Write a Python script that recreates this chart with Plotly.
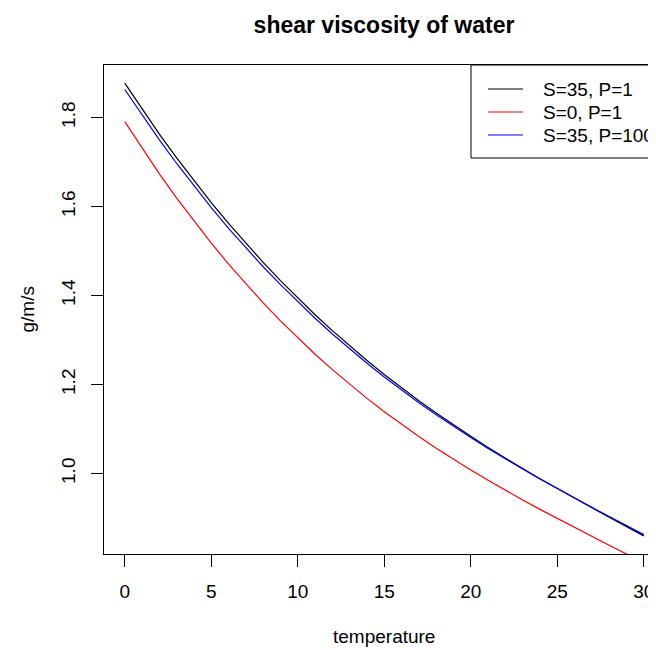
import plotly.graph_objects as go

# viscosity of sea water vs temperature
temperature = list(range(0, 31))

visc_s35_p1 = [1.8774, 1.8189, 1.7629, 1.7094, 1.6582, 1.6091, 1.5621, 1.5173,
               1.4745, 1.4336, 1.3944, 1.3570, 1.3212, 1.2870, 1.2542, 1.2228,
               1.1927, 1.1638, 1.1361, 1.1094, 1.0837, 1.0588, 1.0346, 1.0112,
               0.9885, 0.9663, 0.9444, 0.9230, 0.9018, 0.8809, 0.8600]
visc_s0_p1 = [1.7908, 1.7308, 1.6736, 1.6192, 1.5673, 1.5179, 1.4708, 1.4261,
              1.3836, 1.3432, 1.3048, 1.2682, 1.2335, 1.2005, 1.1690, 1.1390,
              1.1104, 1.0831, 1.0570, 1.0320, 1.0080, 0.9848, 0.9624, 0.9407,
              0.9196, 0.8990, 0.8787, 0.8587, 0.8389, 0.8192, 0.7994]
visc_s35_p100 = [1.8631, 1.8052, 1.7497, 1.6968, 1.6462, 1.5977, 1.5512, 1.5070,
                 1.4648, 1.4245, 1.3858, 1.3490, 1.3138, 1.2802, 1.2479, 1.2171,
                 1.1876, 1.1592, 1.1321, 1.1060, 1.0809, 1.0565, 1.0329, 1.0101,
                 0.9880, 0.9663, 0.9450, 0.9242, 0.9035, 0.8832, 0.8629]

labels = ['S=35, P=1', 'S=0, P=1', 'S=35, P=100']
colors = ['black', '#ff0000', '#0000ff']

FONT = 'Liberation Sans, Arial, Helvetica, sans-serif'

# the page body adds an 8px margin, so the figure is 8px smaller and
# all pixel positions below are given in page pixels minus 8
OFF = 8
W, H = 656 - OFF, 650 - OFF

fig = go.Figure()
for name, y, c in zip(labels, [visc_s35_p1, visc_s0_p1, visc_s35_p100], colors):
    fig.add_trace(go.Scatter(x=temperature, y=y, mode='lines', name=name,
                             line=dict(color=c, width=1.2), showlegend=False))

# plot region in page pixels: left 104, right 656 (clipped), top 65, bottom 554
L, R, T, B = 104 - OFF, 656 - OFF, 65 - OFF, 554 - OFF
def px(x):
    return (x - OFF - L) / (R - L)
def py(y):
    return (B - (y - OFF)) / (B - T)

shapes = [dict(type='rect', xref='paper', yref='paper',
               x0=px(471), x1=1.08, y0=py(158), y1=1.0,
               line=dict(color='black', width=1), fillcolor='white', layer='above')]
annotations = []
rows = [89, 112, 135]
for lab, c, ry in zip(labels, colors, rows):
    shapes.append(dict(type='line', xref='paper', yref='paper',
                       x0=px(488), x1=px(523), y0=py(ry), y1=py(ry),
                       line=dict(color=c, width=1.2), layer='above'))
    annotations.append(dict(text=lab, xref='paper', yref='paper', x=px(541), y=py(ry),
                            xanchor='left', yanchor='middle', showarrow=False,
                            font=dict(family=FONT, size=19, color='black')))

annotations.append(dict(text='temperature', xref='paper', yref='paper',
                        x=px(384), y=py(636), xanchor='center', yanchor='middle',
                        showarrow=False, font=dict(family=FONT, size=19, color='black')))
annotations.append(dict(text='g/m/s', xref='paper', yref='paper', textangle=-90,
                        x=px(27), y=0.5, xanchor='center', yanchor='middle',
                        showarrow=False, font=dict(family=FONT, size=19, color='black')))

fig.update_layout(
    width=W, height=H,
    margin=dict(l=L, r=0, t=T, b=H - B, pad=0),
    plot_bgcolor='white',
    paper_bgcolor='white',
    title=dict(text='<b>shear viscosity of water</b>', xref='container', yref='container',
               x=(384 - OFF) / W, y=1 - (25 - OFF) / H, xanchor='center', yanchor='middle',
               font=dict(family=FONT, size=23, color='black')),
    xaxis=dict(
        range=[-1.2, -1.2 + (R - L) / 17.3],
        tick0=0, dtick=5,
        showgrid=False, zeroline=False,
        showline=True, linecolor='black', linewidth=1, mirror=True,
        ticks='outside', ticklen=12, tickcolor='black', tickwidth=1,
        ticklabelstandoff=8,
        tickfont=dict(family=FONT, size=19, color='black'),
    ),
    yaxis=dict(
        range=[0.8193, 1.9181],
        tick0=0, dtick=0.2, tickformat='.1f',
        showgrid=False, zeroline=False,
        showline=True, linecolor='black', linewidth=1,
        ticks='outside', ticklen=12, tickcolor='black', tickwidth=1,
        tickangle=-90, ticklabelstandoff=8,
        tickfont=dict(family=FONT, size=19, color='black'),
    ),
    shapes=shapes,
    annotations=annotations,
    showlegend=False,
)

fig.write_html("out.html")
